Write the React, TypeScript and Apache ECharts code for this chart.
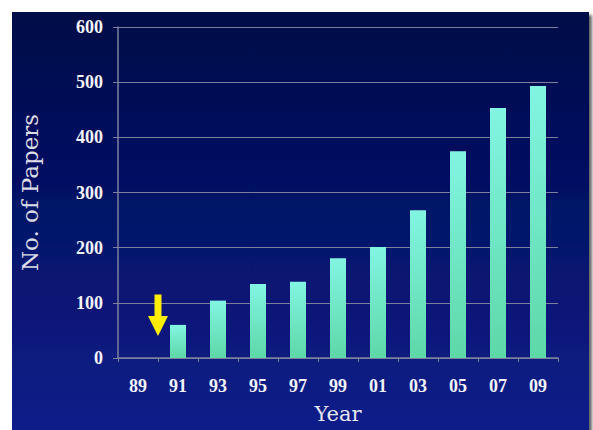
import React, { useEffect, useRef } from "react";
import * as echarts from "echarts";

const years = ["89", "91", "93", "95", "97", "99", "01", "03", "05", "07", "09"];
const papers: (number | null)[] = [null, 60, 104, 134, 138, 181, 201, 268, 375, 453, 493];
const yTicks = [0, 100, 200, 300, 400, 500, 600];
// arrow annotation (value units): from top of shaft to tip
const arrowValues = { top: 115, headBase: 76, tip: 40 };

export default function App() {
  const ref = useRef<HTMLDivElement>(null);
  useEffect(() => {
    if (!ref.current) return;
    const chart = echarts.init(ref.current, null, { renderer: "svg" });
    const font = "DejaVu Serif";
    const tickFont = "Liberation Serif";
    chart.setOption({
      animation: false,
      backgroundColor: "#ffffff",
      graphic: [
        {
          type: "rect",
          z: -10,
          silent: true,
          shape: { x: 12, y: 12, width: 577, height: 420 },
          style: {
            fill: new echarts.graphic.LinearGradient(0, 0, 0, 1, [
              { offset: 0, color: "#000848" },
              { offset: 1, color: "#0b1e8a" },
            ]),
            shadowColor: "rgba(0,0,0,0.6)",
            shadowBlur: 3,
            shadowOffsetX: 3,
            shadowOffsetY: 3,
          },
        },
      ],
      grid: { left: 118, right: 35, top: 27, bottom: 72 },
      xAxis: {
        type: "category",
        data: years,
        name: "Year",
        nameLocation: "middle",
        nameGap: 45,
        nameTextStyle: { color: "#e6e6ee", fontFamily: font, fontSize: 21 },
        axisLine: { lineStyle: { color: "#7c809c", width: 1.5 } },
        axisTick: { show: true, length: 4, lineStyle: { color: "#7c809c" } },
        axisLabel: {
          color: "#f4f4f8",
          fontFamily: tickFont,
          fontWeight: "bold",
          fontSize: 18,
          margin: 19,
        },
      },
      yAxis: {
        type: "value",
        min: 0,
        max: 600,
        interval: 100,
        name: "No. of Papers",
        nameLocation: "middle",
        nameGap: 77,
        nameRotate: 90,
        nameTextStyle: { color: "#dcdce6", fontFamily: font, fontSize: 23 },
        axisLine: { show: true, lineStyle: { color: "#7c809c", width: 1.5 } },
        axisTick: { show: true, length: 5, lineStyle: { color: "#7c809c" } },
        splitLine: { lineStyle: { color: "#7c809c", width: 1 } },
        axisLabel: {
          color: "#f4f4f8",
          fontFamily: tickFont,
          fontWeight: "bold",
          fontSize: 18,
          margin: 15,
          formatter: (v: number) => (yTicks.includes(v) ? String(v) : ""),
        },
      },
      series: [
        {
          type: "bar",
          data: papers,
          barWidth: "40%",
          itemStyle: {
            color: new echarts.graphic.LinearGradient(0, 0, 0, 1, [
              { offset: 0, color: "#82f5e2" },
              { offset: 1, color: "#5dd8a8" },
            ]),
          },
        },
      ],
    });
    const x0 = chart.convertToPixel({ xAxisIndex: 0 }, years[0]) as number;
    const x1 = chart.convertToPixel({ xAxisIndex: 0 }, years[1]) as number;
    const cx = (x0 + x1) / 2;
    const yTop = chart.convertToPixel({ yAxisIndex: 0 }, arrowValues.top) as number;
    const yBase = chart.convertToPixel({ yAxisIndex: 0 }, arrowValues.headBase) as number;
    const yTip = chart.convertToPixel({ yAxisIndex: 0 }, arrowValues.tip) as number;
    const sw = 3.5;
    const hw = 10;
    chart.setOption({
      graphic: [
        {},
        {
          type: "polygon",
          z: 10,
          shape: {
            points: [
              [cx - sw, yTop],
              [cx + sw, yTop],
              [cx + sw, yBase],
              [cx + hw, yBase],
              [cx, yTip],
              [cx - hw, yBase],
              [cx - sw, yBase],
            ],
          },
          style: { fill: "#ffee00" },
        },
      ],
    });
    return () => chart.dispose();
  }, []);
  return (
    <div
      ref={ref}
      style={{ position: "absolute", left: 0, top: 0, width: 593, height: 430 }}
    />
  );
}
